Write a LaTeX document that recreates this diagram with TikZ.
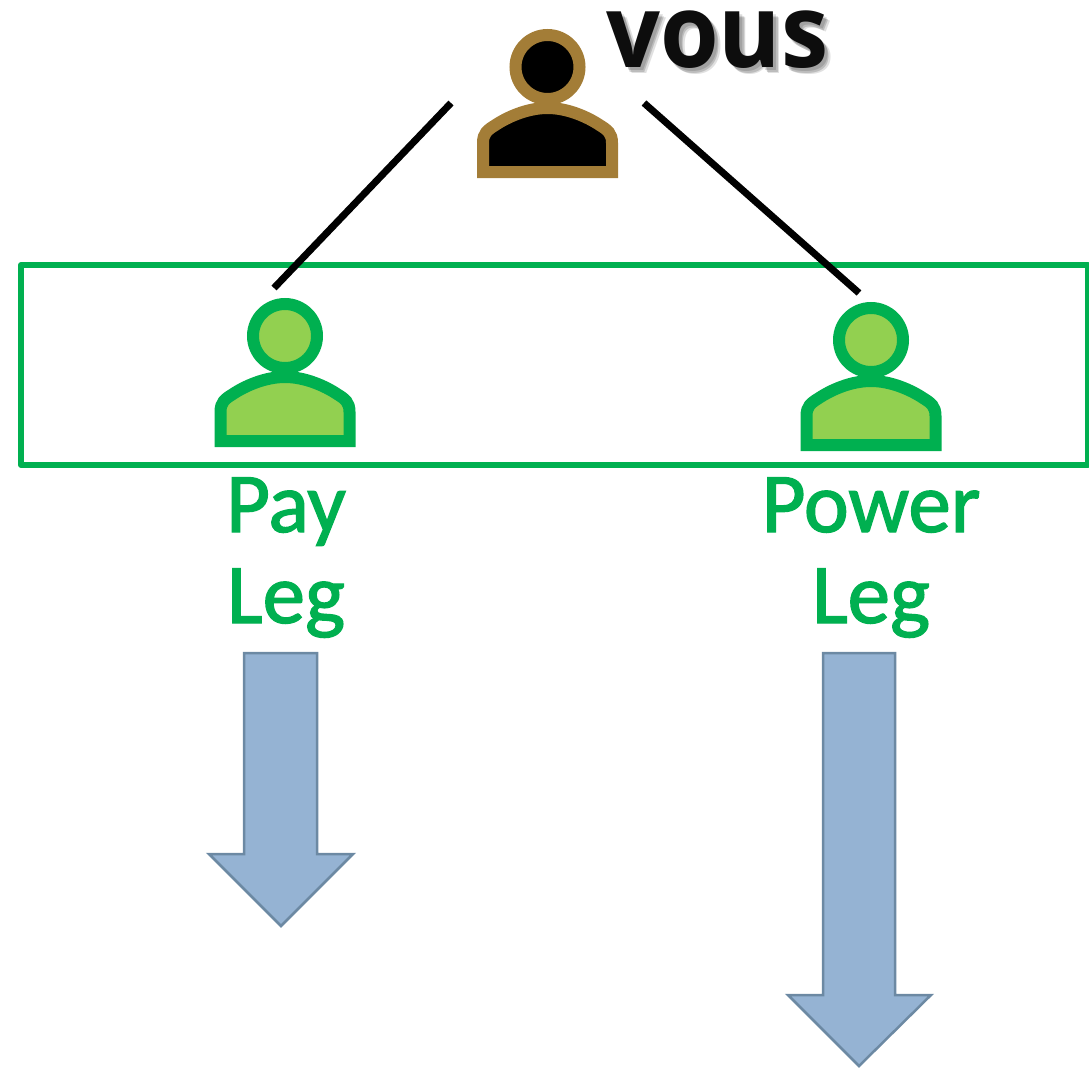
\documentclass[tikz,border=0pt]{standalone}
\usepackage{fontspec}
\setmainfont{Carlito}[FakeBold=1.6]
\newfontfamily\vousfont{Open Sans}[FakeStretch=0.93]
\definecolor{pgreen}{HTML}{00B050}
\definecolor{plight}{HTML}{92D050}
\definecolor{pbrown}{HTML}{A37D37}
\definecolor{afill}{HTML}{95B3D3}
\definecolor{aline}{HTML}{6C89A3}
\tikzset{
  x=1pt,y=-1pt,
  person/.pic={
    \path[pic actions,line width=12pt] (0,0) circle[radius=32];
    \path[pic actions,line width=12pt,line join=miter]
      (-64.5,105) -- (-64.5,76)
      .. controls (-64.5,66) and (-60,63) .. (-52,58)
      .. controls (-40,50) and (-20,41) .. (0,41)
      .. controls (20,41) and (40,50) .. (52,58)
      .. controls (60,63) and (64.5,66) .. (64.5,76)
      -- (64.5,105) -- cycle;
  },
  frame box/.style={draw=pgreen,line width=6pt,line join=round,outer sep=0pt},
  link/.style={draw=black,line width=7pt},
  down arrow/.style={draw=aline,fill=afill,line width=2.5pt,line join=miter},
  leg text/.style={text=pgreen,font=\fontsize{85}{85}\selectfont,inner sep=0pt,anchor=base},
  you text/.style={font=\vousfont\bfseries\fontsize{102}{102}\selectfont,inner sep=0pt,anchor=base west},
}
\begin{document}
\begin{tikzpicture}
\useasboundingbox (0,0) rectangle (1089,1070);
% frame
\node[frame box,minimum width=1067pt,minimum height=200pt,anchor=north west,inner sep=0pt] (frame) at (21,265) {};
% connector ends
\coordinate (youL) at (451,103);
\coordinate (payEnd) at (274,288);
\coordinate (youR) at (644,103);
\coordinate (powEnd) at (859,293);
\draw[link] (youL) -- (payEnd);
\draw[link] (youR) -- (powEnd);
% people
\pic[draw=pbrown,fill=black] (you) at (547.5,67) {person};
\pic[draw=pgreen,fill=plight] (pay) at (285,336) {person};
\pic[draw=pgreen,fill=plight] (power) at (871,340) {person};
% you label with soft shadow
\foreach \dx/\dy/\op in {3/3/0.14,4.5/4.5/0.16,6/6/0.12}{
  \node[you text,text=black,text opacity=\op] at (606+\dx,68+\dy) {vous};
}
\node[you text,text=black!95] (vous) at (606,68) {vous};
% labels
\node[leg text] (paylbl) at (286,532) {Pay};
\node[leg text] (leglbl) at (286,623) {Leg};
\node[leg text] (powlbl) at (871,532) {Power};
\node[leg text] (leg2lbl) at (871,623) {Leg};
% arrows
\draw[down arrow] (244,653) -- (317,653) -- (317,854) -- (353,854) -- (281,926) -- (209,854) -- (244,854) -- cycle;
\draw[down arrow] (823,653) -- (895,653) -- (895,995) -- (931,995) -- (859,1066) -- (788,995) -- (823,995) -- cycle;
\end{tikzpicture}
\end{document}
